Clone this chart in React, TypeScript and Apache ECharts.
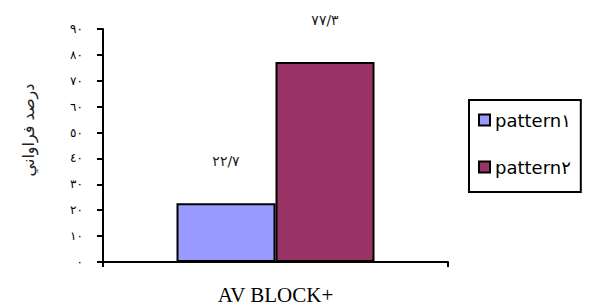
import React, { useEffect, useRef } from "react";
import * as echarts from "echarts";

const categories = ["AV BLOCK+"];
const seriesNames = ["pattern۱", "pattern۲"];
const pattern1Values = [22.7];
const pattern2Values = [77.3];
const yAxisName = "درصد فراواني";
const colors = ["#9999FF", "#993366"];

const AR = "٠١٢٣٤٥٦٧٨٩";
const toArabic = (v: number | string) =>
  String(v).replace(/[0-9]/g, (d) => AR[+d]).replace(".", "/");

export default function App() {
  const ref = useRef<HTMLDivElement>(null);
  useEffect(() => {
    const chart = echarts.init(ref.current!, null, { renderer: "svg" });
    const barBase = {
      type: "bar" as const,
      barWidth: 99,
      barGap: "0%",
      label: {
        show: true,
        position: "top" as const,
        distance: 35,
        formatter: (p: any) => toArabic(p.value),
        fontFamily: "DejaVu Sans",
        fontSize: 14,
        color: "#222",
      },
    };
    chart.setOption({
      animation: false,
      backgroundColor: "#fff",
      grid: { left: 103, right: 141, top: 29, bottom: 41 },
      legend: {
        orient: "vertical",
        left: 469,
        top: 100,
        padding: [10.5, 10, 15.5, 9],
        itemGap: 28,
        itemWidth: 11,
        itemHeight: 11,
        borderColor: "#000",
        borderWidth: 2,
        borderRadius: 0,
        icon: "rect",
        textStyle: { fontFamily: "DejaVu Sans", fontSize: 18, color: "#000", lineHeight: 19 },
        data: seriesNames,
      },
      xAxis: {
        type: "category",
        data: categories,
        axisLine: { lineStyle: { color: "#000", width: 2 } },
        axisTick: { show: true, length: 5, lineStyle: { color: "#000", width: 2 } },
        axisLabel: { margin: 22, fontFamily: "Liberation Serif", fontSize: 21, color: "#000" },
      },
      yAxis: {
        type: "value",
        min: 0,
        max: 90,
        interval: 10,
        splitLine: { show: false },
        axisLine: { show: true, lineStyle: { color: "#000", width: 2 } },
        axisTick: { show: true, length: 6, lineStyle: { color: "#000", width: 2 } },
        axisLabel: {
          margin: 20,
          fontFamily: "DejaVu Sans",
          fontSize: 12,
          color: "#000",
          formatter: (v: number) => toArabic(v),
        },
      },
      graphic: [
        {
          type: "text",
          x: 28,
          y: 130,
          rotation: Math.PI / 2,
          style: {
            text: yAxisName,
            fontFamily: "DejaVu Sans",
            fontSize: 16,
            fill: "#222",
            align: "center",
            verticalAlign: "middle",
          },
        },
      ],
      series: [
        {
          ...barBase,
          name: seriesNames[0],
          data: pattern1Values,
          itemStyle: { color: colors[0], borderColor: "#000", borderWidth: 2 },
        },
        {
          ...barBase,
          name: seriesNames[1],
          data: pattern2Values,
          itemStyle: { color: colors[1], borderColor: "#000", borderWidth: 2 },
        },
      ],
    });
    return () => chart.dispose();
  }, []);
  return <div ref={ref} style={{ width: 589, height: 305, position: "fixed", left: 0, top: 0 }} />;
}
